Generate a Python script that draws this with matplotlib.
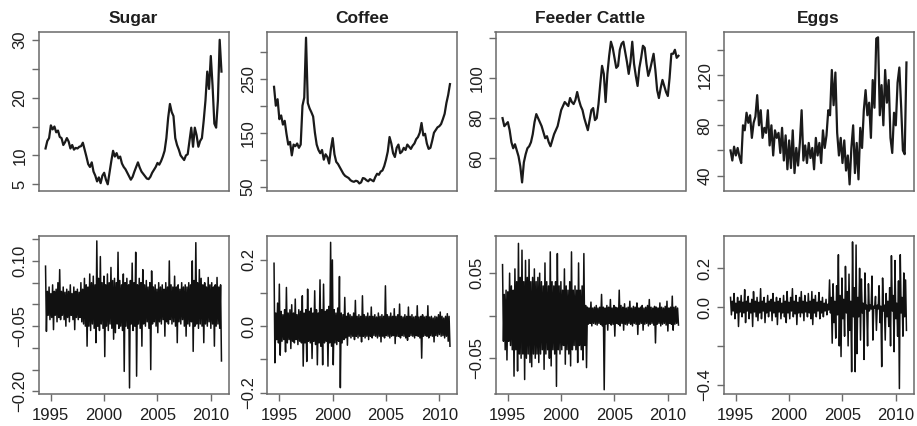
import matplotlib.pyplot as plt
import numpy as np

plt.rcParams['font.family'] = ['Liberation Sans', 'DejaVu Sans']

titles = ['Sugar', 'Coffee', 'Feeder Cattle', 'Eggs']

# prices, one value every 2 months from mid 1994 to 2011
sugar = [11.2, 12.5, 13.0, 15.2, 14.5, 15.0, 14.0, 14.3, 13.2, 13.0,
         11.8, 12.3, 13.0, 12.4, 11.2, 11.8, 11.0, 11.3, 11.2, 11.5,
         11.6, 12.2, 11.0, 9.8, 8.5, 8.0, 8.8, 7.2, 6.5, 5.5,
         6.2, 5.2, 6.5, 7.0, 5.8, 5.0, 7.0, 9.0, 10.8, 9.8,
         10.4, 9.5, 9.8, 8.6, 8.0, 7.6, 7.0, 6.4, 5.8, 6.3,
         7.2, 8.0, 8.8, 7.9, 7.2, 6.8, 6.4, 6.0, 5.9, 6.3,
         7.0, 7.5, 8.0, 8.7, 8.4, 9.0, 9.8, 10.8, 13.0, 16.5,
         18.9, 17.5, 16.8, 13.0, 11.8, 11.0, 10.0, 9.6, 9.2, 10.0,
         10.2, 12.5, 14.8, 11.5, 14.8, 13.5, 11.5, 12.5, 13.0, 16.0,
         19.5, 24.5, 21.5, 27.2, 22.0, 15.5, 14.8, 19.5, 30.0, 24.5]
coffee = [235, 200, 212, 175, 182, 165, 172, 148, 128, 133,
          108, 128, 125, 130, 122, 128, 200, 215, 326, 205,
          195, 188, 180, 150, 128, 118, 112, 118, 100, 110,
          105, 93, 120, 140, 110, 96, 92, 86, 80, 74,
          70, 68, 66, 62, 60, 59, 61, 60, 56, 58,
          66, 65, 62, 60, 64, 62, 60, 68, 74, 72,
          78, 80, 88, 100, 115, 142, 130, 112, 105, 122,
          128, 112, 115, 122, 118, 128, 124, 120, 126, 130,
          138, 142, 150, 168, 145, 148, 130, 120, 122, 135,
          150, 155, 160, 162, 166, 175, 185, 205, 220, 240]
cattle = [80, 76, 77, 78, 74, 68, 65, 67, 64, 61,
          56, 48, 58, 62, 65, 66, 68, 72, 78, 82,
          80, 78, 76, 73, 70, 71, 68, 66, 69, 72,
          74, 76, 80, 84, 86, 88, 87, 86, 90, 88,
          87, 89, 93, 89, 86, 84, 80, 77, 74, 79,
          84, 85, 79, 80, 87, 97, 106, 102, 88, 102,
          111, 118, 115, 110, 105, 106, 114, 117, 118, 113,
          108, 102, 108, 118, 107, 101, 96, 105, 110, 116,
          115, 107, 101, 104, 108, 112, 104, 94, 90, 95,
          99, 96, 93, 91, 100, 112, 112, 114, 110, 111]
eggs = [60, 52, 63, 56, 62, 55, 50, 80, 76, 90,
        82, 88, 70, 82, 87, 104, 80, 92, 70, 78,
        74, 92, 64, 80, 56, 76, 70, 74, 58, 78,
        52, 72, 45, 68, 46, 76, 42, 62, 48, 66,
        92, 52, 64, 50, 66, 54, 62, 45, 70, 56,
        66, 50, 76, 62, 72, 92, 88, 124, 96, 122,
        74, 56, 70, 50, 68, 44, 56, 33, 62, 80,
        42, 66, 37, 78, 62, 92, 108, 88, 98, 70,
        116, 94, 149, 150, 88, 112, 80, 124, 98, 116,
        70, 58, 90, 80, 114, 126, 95, 60, 57, 130]

# returns: upper and lower swing in each 2 month slot
sugar_hi = [0.088, 0.03, 0.04, 0.025, 0.045, 0.03, 0.035, 0.05, 0.08, 0.03,
            0.04, 0.028, 0.035, 0.03, 0.045, 0.025, 0.04, 0.03, 0.035, 0.028,
            0.05, 0.035, 0.06, 0.045, 0.04, 0.07, 0.05, 0.065, 0.045, 0.146,
            0.06, 0.11, 0.05, 0.065, 0.045, 0.07, 0.05, 0.085, 0.055, 0.06,
            0.05, 0.12, 0.055, 0.045, 0.07, 0.05, 0.06, 0.045, 0.055, 0.095,
            0.05, 0.12, 0.045, 0.06, 0.05, 0.08, 0.045, 0.055, 0.04, 0.05,
            0.077, 0.04, 0.045, 0.035, 0.05, 0.04, 0.045, 0.035, 0.05, 0.04,
            0.10, 0.045, 0.04, 0.065, 0.04, 0.045, 0.035, 0.05, 0.04, 0.045,
            0.04, 0.05, 0.045, 0.10, 0.055, 0.142, 0.05, 0.08, 0.06, 0.045,
            0.05, 0.04, 0.062, 0.045, 0.05, 0.04, 0.045, 0.062, 0.04, 0.045]
sugar_lo = [-0.062, -0.025, -0.035, -0.03, -0.058, -0.025, -0.04, -0.03, -0.035, -0.025,
            -0.035, -0.05, -0.03, -0.04, -0.025, -0.035, -0.058, -0.03, -0.035, -0.03,
            -0.04, -0.045, -0.05, -0.096, -0.05, -0.06, -0.045, -0.055, -0.088, -0.05,
            -0.06, -0.045, -0.055, -0.12, -0.05, -0.06, -0.045, -0.055, -0.08, -0.065,
            -0.045, -0.055, -0.05, -0.06, -0.154, -0.05, -0.055, -0.192, -0.045, -0.06,
            -0.05, -0.165, -0.045, -0.055, -0.096, -0.045, -0.05, -0.04, -0.055, -0.15,
            -0.045, -0.04, -0.05, -0.065, -0.04, -0.045, -0.035, -0.073, -0.04, -0.045,
            -0.035, -0.045, -0.04, -0.05, -0.088, -0.04, -0.045, -0.035, -0.05, -0.073,
            -0.045, -0.05, -0.04, -0.108, -0.05, -0.045, -0.055, -0.045, -0.05, -0.088,
            -0.045, -0.05, -0.04, -0.055, -0.045, -0.096, -0.05, -0.045, -0.055, -0.13]
coffee_hi = [0.19, 0.04, 0.07, 0.127, 0.045, 0.035, 0.05, 0.117, 0.04, 0.05,
             0.065, 0.04, 0.082, 0.035, 0.05, 0.045, 0.092, 0.04, 0.05, 0.112,
             0.045, 0.055, 0.04, 0.107, 0.05, 0.04, 0.14, 0.05, 0.127, 0.045,
             0.05, 0.06, 0.253, 0.2, 0.05, 0.04, 0.055, 0.15, 0.04, 0.035,
             0.087, 0.03, 0.04, 0.035, 0.03, 0.04, 0.078, 0.03, 0.035, 0.03,
             0.092, 0.035, 0.03, 0.04, 0.03, 0.058, 0.03, 0.035, 0.028, 0.04,
             0.03, 0.035, 0.03, 0.122, 0.035, 0.03, 0.04, 0.03, 0.053, 0.03,
             0.035, 0.067, 0.03, 0.028, 0.035, 0.03, 0.058, 0.03, 0.035, 0.028,
             0.03, 0.062, 0.028, 0.03, 0.035, 0.028, 0.03, 0.062, 0.028, 0.03,
             0.025, 0.03, 0.028, 0.035, 0.043, 0.03, 0.025, 0.03, 0.038, 0.03]
coffee_lo = [-0.11, -0.04, -0.05, -0.087, -0.045, -0.04, -0.077, -0.05, -0.04, -0.067,
             -0.045, -0.05, -0.04, -0.055, -0.045, -0.05, -0.12, -0.05, -0.106, -0.045,
             -0.05, -0.097, -0.045, -0.055, -0.116, -0.05, -0.06, -0.116, -0.05, -0.045,
             -0.12, -0.05, -0.06, -0.116, -0.05, -0.055, -0.045, -0.185, -0.05, -0.04,
             -0.035, -0.057, -0.03, -0.035, -0.03, -0.04, -0.03, -0.035, -0.03, -0.047,
             -0.03, -0.035, -0.03, -0.04, -0.03, -0.035, -0.028, -0.03, -0.035, -0.03,
             -0.047, -0.03, -0.035, -0.028, -0.03, -0.035, -0.03, -0.028, -0.052, -0.03,
             -0.03, -0.035, -0.028, -0.03, -0.035, -0.042, -0.03, -0.028, -0.03, -0.035,
             -0.028, -0.03, -0.035, -0.096, -0.03, -0.028, -0.03, -0.035, -0.028, -0.03,
             -0.047, -0.028, -0.03, -0.025, -0.03, -0.028, -0.035, -0.03, -0.045, -0.06]
cattle_hi = [0.06, 0.025, 0.03, 0.028, 0.05, 0.035, 0.03, 0.055, 0.04, 0.085,
             0.045, 0.077, 0.04, 0.065, 0.045, 0.066, 0.04, 0.045, 0.055, 0.04,
             0.045, 0.05, 0.04, 0.035, 0.062, 0.04, 0.035, 0.075, 0.04, 0.035,
             0.04, 0.073, 0.035, 0.04, 0.03, 0.055, 0.035, 0.03, 0.04, 0.075,
             0.03, 0.035, 0.03, 0.062, 0.03, 0.035, 0.073, 0.012, 0.01, 0.009,
             0.016, 0.009, 0.01, 0.012, 0.009, 0.01, 0.025, 0.01, 0.009, 0.012,
             0.01, 0.019, 0.009, 0.012, 0.01, 0.009, 0.03, 0.012, 0.01, 0.014,
             0.009, 0.01, 0.017, 0.009, 0.011, 0.01, 0.015, 0.009, 0.01, 0.012,
             0.009, 0.01, 0.012, 0.019, 0.01, 0.009, 0.011, 0.01, 0.009, 0.015,
             0.01, 0.009, 0.011, 0.017, 0.009, 0.01, 0.023, 0.01, 0.011, 0.009]
cattle_lo = [-0.03, -0.04, -0.052, -0.03, -0.035, -0.04, -0.071, -0.04, -0.065, -0.045,
             -0.05, -0.045, -0.075, -0.05, -0.045, -0.055, -0.06, -0.045, -0.05, -0.045,
             -0.055, -0.045, -0.04, -0.063, -0.045, -0.04, -0.05, -0.059, -0.04, -0.045,
             -0.083, -0.04, -0.045, -0.04, -0.035, -0.057, -0.04, -0.045, -0.059, -0.04,
             -0.035, -0.04, -0.055, -0.035, -0.04, -0.052, -0.035, -0.061, -0.01, -0.009,
             -0.012, -0.009, -0.01, -0.011, -0.009, -0.01, -0.012, -0.087, -0.01, -0.017,
             -0.009, -0.011, -0.01, -0.024, -0.009, -0.01, -0.012, -0.009, -0.017, -0.01,
             -0.011, -0.009, -0.01, -0.012, -0.009, -0.01, -0.022, -0.01, -0.009, -0.017,
             -0.01, -0.009, -0.012, -0.01, -0.009, -0.011, -0.032, -0.01, -0.009, -0.012,
             -0.01, -0.009, -0.011, -0.018, -0.009, -0.01, -0.017, -0.01, -0.009, -0.011]
eggs_hi = [0.05, 0.03, 0.07, 0.02, 0.05, 0.03, 0.06, 0.025, 0.09, 0.03,
           0.055, 0.02, 0.04, 0.08, 0.03, 0.05, 0.025, 0.095, 0.03, 0.05,
           0.02, 0.06, 0.03, 0.04, 0.07, 0.025, 0.05, 0.03, 0.045, 0.02,
           0.06, 0.03, 0.08, 0.025, 0.05, 0.095, 0.03, 0.06, 0.025, 0.05,
           0.08, 0.03, 0.06, 0.025, 0.07, 0.03, 0.08, 0.04, 0.06, 0.025,
           0.075, 0.03, 0.05, 0.02, 0.04, 0.015, 0.14, 0.05, 0.12, 0.03,
           0.11, 0.27, 0.06, 0.15, 0.04, 0.21, 0.08, 0.17, 0.03, 0.336,
           0.1, 0.32, 0.05, 0.2, 0.145, 0.02, 0.176, 0.01, 0.12, 0.01,
           0.16, 0.005, 0.055, 0.01, 0.11, 0.005, 0.15, 0.01, 0.07, 0.03,
           0.1, 0.265, 0.06, 0.24, 0.02, 0.135, 0.27, 0.05, 0.176, 0.14]
eggs_lo = [-0.04, -0.02, -0.06, -0.03, -0.1, -0.025, -0.05, -0.03, -0.08, -0.02,
           -0.06, -0.03, -0.1, -0.025, -0.05, -0.07, -0.03, -0.06, -0.02, -0.08,
           -0.03, -0.05, -0.02, -0.07, -0.03, -0.05, -0.09, -0.025, -0.06, -0.03,
           -0.05, -0.08, -0.03, -0.06, -0.02, -0.05, -0.035, -0.09, -0.03, -0.05,
           -0.03, -0.07, -0.025, -0.05, -0.03, -0.06, -0.09, -0.03, -0.05, -0.02,
           -0.06, -0.03, -0.05, -0.02, -0.04, -0.015, -0.03, -0.186, -0.08, -0.16,
           -0.04, -0.2, -0.255, -0.06, -0.15, -0.03, -0.2, -0.12, -0.333, -0.05,
           -0.333, -0.24, -0.05, -0.17, -0.03, -0.27, -0.01, -0.2, -0.02, -0.01,
           -0.17, -0.005, -0.12, -0.01, -0.08, -0.307, -0.02, -0.17, -0.05, -0.1,
           -0.2, -0.02, -0.23, -0.06, -0.15, -0.42, -0.03, -0.15, -0.05, -0.12]

prices = [sugar, coffee, cattle, eggs]
highs = [sugar_hi, coffee_hi, cattle_hi, eggs_hi]
lows = [sugar_lo, coffee_lo, cattle_lo, eggs_lo]

# axis settings (R style: only some tick labels shown)
price_lim = [(3.9, 31.3), (42.6, 336), (43.9, 122.7), (28, 154)]
price_ticks = [[5, 10, 15, 20, 25, 30], [50, 100, 150, 200, 250, 300],
               [60, 80, 100, 120], [40, 60, 80, 100, 120, 140]]
price_labels = [['5', '10', '', '20', '', '30'], ['50', '', '150', '', '250', ''],
                ['60', '80', '100', ''], ['40', '', '80', '', '120', '']]
ret_lim = [(-0.206, 0.158), (-0.204, 0.273), (-0.092, 0.094), (-0.448, 0.368)]
ret_ticks = [[-0.20, -0.15, -0.10, -0.05, 0.0, 0.05, 0.10, 0.15],
             [-0.2, -0.1, 0.0, 0.1, 0.2], [-0.05, 0.0, 0.05], [-0.4, -0.2, 0.0, 0.2]]
ret_labels = [['\u22120.20', '', '', '\u22120.05', '', '', '0.10', ''],
              ['\u22120.2', '', '0.0', '', '0.2'], ['\u22120.05', '', '0.05'],
              ['\u22120.4', '', '0.0', '0.2']]

gray = '#6a6a6a'
lefts = [38.5, 267.0, 495.5, 723.5]

fig = plt.figure(figsize=(9.17, 4.26), dpi=100)

t_price = np.linspace(1994.5, 2011.0, len(sugar))
t_ret = np.linspace(1994.5, 2011.0, 2 * len(sugar_hi))


def style(ax, ticks, labels):
    for s in ax.spines.values():
        s.set_color(gray)
        s.set_linewidth(1.1)
    ax.tick_params(colors=gray, labelcolor='#1e1e1e', labelsize=12,
                   length=5, width=1.0)
    ax.tick_params(axis='y', pad=3)
    ax.tick_params(axis='x', pad=5)
    ax.set_yticks(ticks)
    ax.set_yticklabels(labels, rotation=90, va='center')
    ax.set_xlim(1993.84, 2011.66)


for i in range(4):
    ax = fig.add_axes([lefts[i] / 917, 0.5524, 190 / 917, 0.3718])
    ax.plot(t_price, prices[i], color='#1a1a1a', lw=1.6)
    ax.set_ylim(price_lim[i])
    style(ax, price_ticks[i], price_labels[i])
    ax.set_xticks([])
    ax.set_title(titles[i], fontsize=12.5, fontweight='bold', pad=7, color='#1e1e1e')

    ax2 = fig.add_axes([lefts[i] / 917, 0.0751, 190 / 917, 0.3716])
    r = np.column_stack([highs[i], lows[i]]).ravel()
    ax2.plot(t_ret, r, color='#111111', lw=1.1)
    ax2.set_ylim(ret_lim[i])
    style(ax2, ret_ticks[i], ret_labels[i])
    ax2.set_xticks([1995, 2000, 2005, 2010])

fig.savefig('out.png', dpi=100)
